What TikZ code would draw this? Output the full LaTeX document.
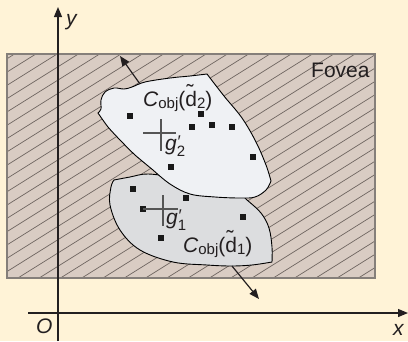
\documentclass[tikz,border=0pt]{standalone}
\usepackage{fontspec}
\setmainfont{Liberation Sans}
\usetikzlibrary{arrows.meta}
\definecolor{bgc}{HTML}{FFF3D7}
\definecolor{fovfill}{HTML}{D9CCC3}
\definecolor{fovline}{HTML}{857F7A}
\definecolor{hatchc}{HTML}{6E6560}
\definecolor{whitec}{HTML}{EFF1F4}
\definecolor{grayc}{HTML}{DCDDDF}
\definecolor{txt}{HTML}{231F20}
\definecolor{crossc}{HTML}{555555}
\newcommand{\bigsz}{\fontsize{21}{25}\selectfont}
\newcommand{\smol}{\fontsize{15}{17}\selectfont}
\newcommand{\tld}{\makebox[0pt][l]{\hspace{0.06em}\raisebox{0.3em}{\char"02DC}}d}
\newcommand{\gprime}[1]{\itshape g\makebox[0pt][l]{\raisebox{0.1em}{\fontsize{17}{19}\selectfont\itshape\char"2032}}\raisebox{-0.33em}{\smol\upshape #1}}
\tikzset{
  hatch/.style={draw=hatchc, line width=0.7pt},
  blob/.style={draw=black, line width=0.9pt},
  dot/.style={fill=black!90, minimum size=6pt, inner sep=0pt, outer sep=0pt},
  crossline/.style={draw=crossc, line width=1.2pt},
  axis/.style={draw=txt, line width=1.2pt},
  tip/.style={-{Triangle[length=10pt,width=8pt]}},
  lbl/.style={text=txt, inner sep=0pt, anchor=base west, font=\bigsz}
}
\begin{document}
\begin{tikzpicture}[x=1pt,y=-1pt]
\useasboundingbox (0,0) rectangle (408,341);
\fill[bgc] (0,0) rectangle (408,341);
% Fovea
\fill[fovfill] (7,54) rectangle (375,278);
\begin{scope}
\clip (7,54) rectangle (375,278);
\foreach \k in {0,...,36}{
  \pgfmathsetmacro{\b}{63.1+13.3*\k}
  \draw[hatch] (0,\b) -- (420,\b-262.5);
}
\end{scope}
\draw[fovline, line width=1.4pt] (7,54) rectangle (375,278);
\node[lbl] (fovea) at (311,77) {Fovea};
% axes
\coordinate (ybot) at (58,341);
\coordinate (ytop) at (58,7);
\coordinate (xl) at (28,313);
\coordinate (xr) at (408,313);
\draw[axis, tip] (ybot) -- (ytop);
\draw[axis, tip] (xl) -- (xr);
\node[lbl] (ylab) at (66,25) {\itshape y};
\node[lbl] (xlab) at (393,335) {\itshape x};
\node[lbl] (olab) at (36,333) {\itshape O};
% lower gray blob
\filldraw[blob, fill=grayc] (114,180) -- plot[smooth, tension=0.6] coordinates {(114,180) (130,177) (148,174) (175,178) (210,188) (238,193) (247,200) (261,213) (269,228) (272,247) (272,262)}
  -- plot[smooth, tension=0.6] coordinates {(272,262) (252,265) (231,266) (207,265) (173,262) (140,250) (120,230) (110,205) (111,187) (114,180)} -- cycle;
% upper white blob
\filldraw[blob, fill=whitec] (98,113) -- plot[smooth, tension=0.6] coordinates {(98,113) (101,109) (101,100) (105,92) (114,88) (124,89) (132,87) (145,82) (170,78) (190,76) (207,74)}
  -- plot[smooth, tension=0.6] coordinates {(207,74) (224,96) (242,118) (256,142) (266,165) (271,181)}
  -- plot[smooth, tension=0.6] coordinates {(271,181) (266,190) (255,197) (240,198) (215,197) (190,194) (170,184) (153,170)}
  -- plot[smooth, tension=0.4] coordinates {(153,170) (135,155) (120,140) (108,127) (98,113)} -- cycle;
% arrows from blobs
\coordinate (a2s) at (140,84);
\coordinate (a2e) at (120,56);
\draw[axis, tip] (a2s) -- (a2e);
\coordinate (a1s) at (232,266);
\coordinate (a1e) at (259,299);
\draw[axis, tip] (a1s) -- (a1e);
% dots upper
\node[dot] (u1) at (130,116) {};
\node[dot] (u2) at (201,114) {};
\node[dot] (u3) at (192,127) {};
\node[dot] (u4) at (212,125) {};
\node[dot] (u5) at (232,127) {};
\node[dot] (u6) at (253,157) {};
\node[dot] (u7) at (171,167) {};
% dots lower
\node[dot] (l1) at (133,189) {};
\node[dot] (l2) at (186,198) {};
\node[dot] (l3) at (143,209) {};
\node[dot] (l4) at (243,217) {};
\node[dot] (l5) at (161,238) {};
% crosses
\draw[crossline] (143,133) -- (176,133);
\draw[crossline] (161,119) -- (161,151);
\draw[crossline] (143,209) -- (178,209);
\draw[crossline] (163,195) -- (163,226);
% labels
\node[lbl] (g2) at (165,150) {\gprime{2}};
\node[lbl] (g1) at (166,224) {\gprime{1}};
\node[lbl] (c2) at (143,106) {\itshape C\upshape\raisebox{-0.12em}{\smol obj}(\tld\raisebox{-0.12em}{\smol 2})};
\node[lbl] (c1) at (183,252) {\itshape C\upshape\raisebox{-0.12em}{\smol obj}(\tld\raisebox{-0.12em}{\smol 1})};
\end{tikzpicture}
\end{document}
